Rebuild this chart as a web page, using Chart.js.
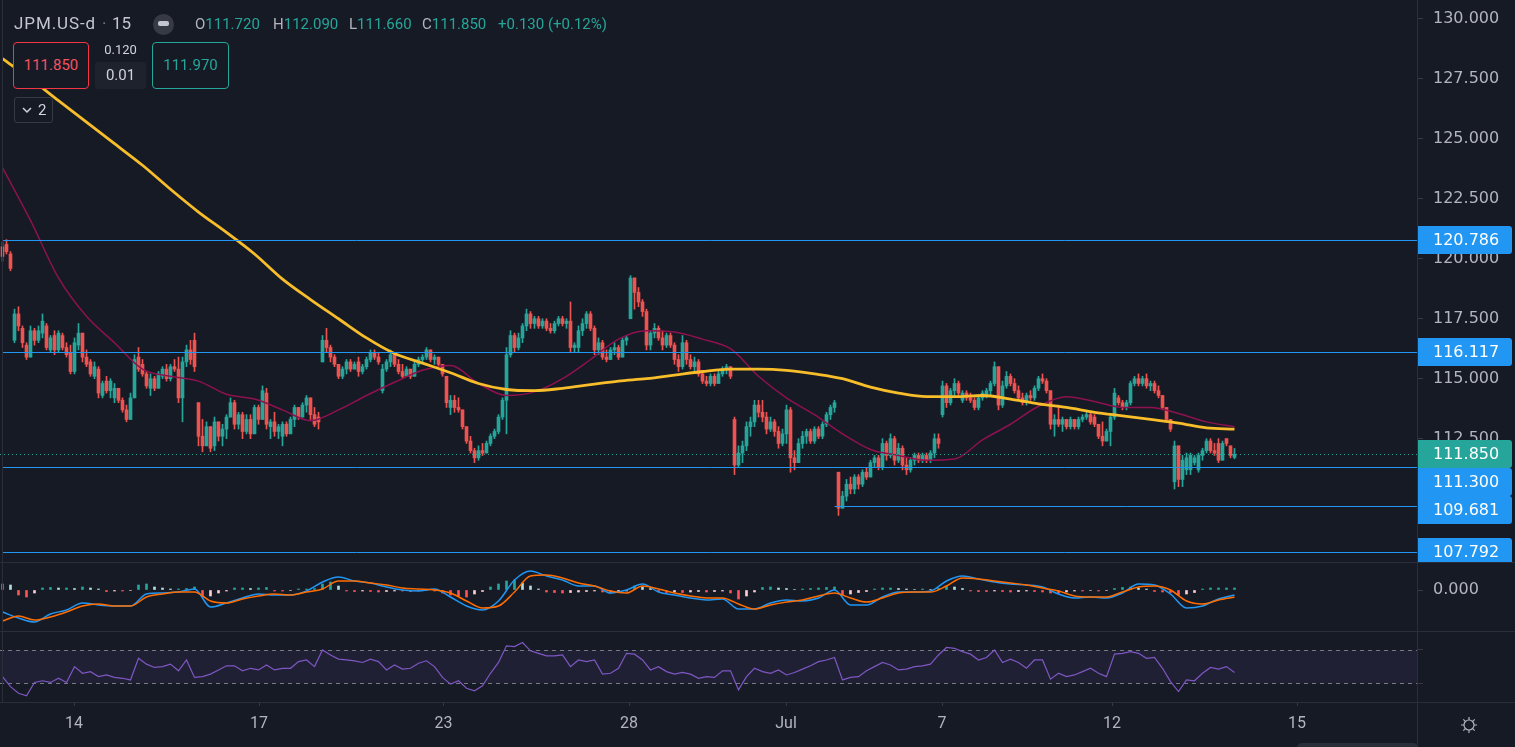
<!DOCTYPE html>
<html>
<head>
<meta charset="utf-8">
<title>JPM.US-d 15</title>
<script src="https://cdn.jsdelivr.net/npm/chart.js@4.4.1/dist/chart.umd.min.js"></script>
<style>
  html, body { margin: 0; padding: 0; background: #161a25; }
  body { width: 1515px; height: 747px; overflow: hidden; position: relative; font-family: Roboto, "Noto Sans", sans-serif; }
  canvas { position: absolute; left: 0; }
  .sep { position: absolute; background: #2a2e39; }
  .lbl { position: absolute; white-space: nowrap; }
  .sym { font-size: 17px; line-height: 22px; color: #c4c7cf; top: 12px; }
  .ohlc { font-size: 15px; line-height: 18px; top: 15px; color: #b2b5be; }
  .ohlc b { font-weight: normal; color: #26a69a; }
  .box { position: absolute; box-sizing: border-box; border: 1px solid; border-radius: 4px; background: #161a25; font-size: 15px; text-align: center; line-height: 45px; }
</style>
</head>
<body>
<canvas id="priceChart" width="1515" height="562" style="top:0"></canvas>
<canvas id="macdChart" width="1515" height="68" style="top:563px"></canvas>
<canvas id="rsiChart" width="1515" height="115" style="top:632px"></canvas>

<div class="sep" style="left:0;top:562px;width:1515px;height:1px"></div>
<div class="sep" style="left:0;top:631px;width:1515px;height:1px"></div>
<div class="sep" style="left:0;top:702px;width:1515px;height:1px"></div>
<div class="sep" style="left:1417px;top:0;width:1px;height:747px"></div>
<div class="sep" style="left:2px;top:0;width:1px;height:702px"></div>

<div class="lbl sym" style="left:14px;letter-spacing:0.9px">JPM.US-d</div>
<div class="lbl sym" style="left:102px;color:#787b86">·</div>
<div class="lbl sym" style="left:112px">15</div>
<div style="position:absolute;left:153px;top:14px;width:21px;height:21px;border-radius:50%;background:#363a45"></div>
<div style="position:absolute;left:158px;top:21px;width:11px;height:5px;border-radius:2px;background:#c4c7cf"></div>
<div class="lbl ohlc" style="left:195px">O<b>111.720</b></div>
<div class="lbl ohlc" style="left:273px">H<b>112.090</b></div>
<div class="lbl ohlc" style="left:349px">L<b>111.660</b></div>
<div class="lbl ohlc" style="left:422px">C<b>111.850</b></div>
<div class="lbl ohlc" style="left:498px"><b>+0.130 (+0.12%)</b></div>

<div class="box" style="left:13px;top:42px;width:76px;height:47px;border-color:#f23645;color:#f7525f">111.850</div>
<div class="lbl" style="left:95px;top:43px;width:51px;text-align:center;font-size:13px;line-height:14px;color:#d1d4dc">0.120</div>
<div style="position:absolute;left:95px;top:62px;width:51px;height:27px;border-radius:3px;background:#1e222d;color:#d1d4dc;font-size:15px;line-height:27px;text-align:center">0.01</div>
<div class="box" style="left:152px;top:42px;width:77px;height:47px;border-color:#26a69a;color:#26a69a">111.970</div>
<div style="position:absolute;left:14px;top:97px;width:39px;height:26px;box-sizing:border-box;border:1px solid #363a45;border-radius:3px"></div>
<svg style="position:absolute;left:22px;top:106px" width="10" height="8"><polyline points="1,2 5,6 9,2" fill="none" stroke="#d1d4dc" stroke-width="1.5"/></svg>
<div class="lbl" style="left:38px;top:101px;font-size:15px;line-height:18px;color:#d1d4dc">2</div>

<svg style="position:absolute;left:1459px;top:715px" width="20" height="20">
  <circle cx="10" cy="10" r="5" fill="none" stroke="#b2b5be" stroke-width="1.2"/>
  <path d="M10 2v3M10 15v3M2 10h3M15 10h3M4.3 4.3l2 2M13.7 13.7l2 2M4.3 15.7l2-2M13.7 6.3l2-2" stroke="#b2b5be" stroke-width="1.2"/>
</svg>
<div style="position:absolute;left:1297px;top:743px;width:121px;height:10px;border-radius:6px;background:#2a2e39"></div>

<script>
// 15-minute candles, one entry per bar
var opens = [
  120.5,120.6,120.2,116.6,117.7,117.1,116.4,115.9,117.0,116.6,
  116.9,117.2,116.2,116.8,116.2,116.8,116.3,116.1,115.3,116.4,
  116.9,115.9,115.7,115.1,115.4,114.3,114.9,114.5,114.2,114.6,
  114.1,113.7,113.3,114.2,115.9,115.6,115.2,114.6,115.0,114.6,
  115.1,115.4,115.0,115.5,115.4,114.2,115.7,116.2,116.6,114.0,
  112.6,112.2,113.0,112.2,113.2,112.6,112.9,113.4,114.0,113.1,
  113.5,112.8,113.3,112.7,113.8,113.3,114.4,113.0,113.2,112.8,
  112.6,113.1,112.7,113.3,113.8,113.4,113.9,114.2,113.5,113.4,
  115.7,116.6,116.3,115.9,115.6,115.1,115.4,115.7,115.4,115.7,
  115.3,115.5,115.8,116.1,115.9,114.5,115.4,115.7,116.0,115.6,
  115.3,115.1,115.4,115.1,115.6,115.8,115.9,116.2,115.8,115.9,
  115.6,115.1,113.8,114.1,113.8,113.7,113.0,112.4,112.0,111.7,
  112.0,111.9,112.3,112.6,112.8,113.4,114.1,116.0,116.8,116.3,
  116.7,117.2,117.7,117.3,117.5,117.2,117.4,117.1,117.0,117.3,
  117.5,117.3,117.4,116.3,116.3,117.0,117.3,117.7,117.1,116.2,
  116.5,115.9,115.8,116.2,116.3,115.9,116.6,117.5,119.2,118.6,
  118.2,117.8,116.4,116.9,117.1,116.7,116.4,116.8,116.4,115.8,
  115.5,116.5,115.8,115.5,115.7,115.2,114.9,114.8,115.1,114.8,
  115.2,115.4,115.5,113.3,111.4,111.9,112.2,113.0,113.2,113.9,
  113.6,113.4,112.9,113.2,112.8,112.3,112.7,113.7,111.7,111.5,
  112.3,112.6,112.8,112.4,112.9,112.6,113.1,113.5,113.8,111.1,
  109.6,110.1,110.6,110.4,110.9,110.6,111.1,110.9,111.5,111.7,
  111.3,112.3,111.8,112.5,111.6,112.1,111.4,111.2,111.6,111.8,
  111.6,111.8,111.6,111.9,112.5,113.5,114.7,114.0,114.5,114.8,
  114.1,114.4,114.2,114.1,113.8,114.2,114.3,114.5,114.8,115.5,
  113.9,114.7,115.1,114.8,114.5,114.2,114.0,114.3,114.2,114.6,
  115.0,114.9,114.5,113.1,113.3,113.1,113.3,113.0,113.3,113.0,
  113.3,113.4,113.5,113.4,113.1,112.6,112.4,112.8,113.4,114.2,
  114.0,113.8,114.0,114.8,115.0,114.8,115.0,114.7,114.8,114.5,
  114.3,113.8,113.3,110.7,112.2,110.8,111.2,111.2,111.5,111.2,
  111.8,112.0,112.4,112.0,112.3,111.6,112.5,112.2,111.72
];
var highs = [
  120.7,120.8,120.3,117.9,118.0,117.2,116.5,117.2,117.1,117.2,
  117.7,117.3,116.8,117.0,117.0,116.9,116.5,116.4,116.7,117.3,
  116.9,116.2,115.8,115.7,115.5,114.9,115.1,115.0,114.8,114.6,
  114.2,113.9,114.4,116.0,116.3,115.8,115.3,115.2,115.1,115.3,
  115.5,115.6,115.6,115.8,115.9,115.9,116.4,116.6,116.9,114.0,
  113.3,113.2,113.0,113.4,113.2,113.1,113.5,114.2,114.1,113.6,
  113.6,113.5,113.5,113.9,113.9,114.7,114.6,113.3,113.6,113.1,
  113.2,113.2,113.4,113.9,113.8,114.0,114.3,114.2,113.8,113.6,
  116.8,117.1,116.4,116.0,115.6,115.5,115.8,115.8,115.7,115.9,
  115.6,115.9,116.2,116.2,116.1,115.6,115.8,116.2,116.1,115.8,
  115.6,115.5,115.4,115.7,115.9,116.0,116.3,116.2,116.0,115.9,
  115.6,115.1,114.3,114.3,114.2,113.7,113.0,112.6,112.1,112.2,
  112.3,112.4,112.7,112.9,113.5,114.2,116.3,117.0,116.9,116.9,
  117.3,117.9,117.8,117.6,117.6,117.5,117.5,117.3,117.4,117.6,
  117.6,117.5,118.2,116.5,117.2,117.5,117.8,117.8,117.2,116.7,
  116.6,116.2,116.3,116.5,116.4,116.7,116.8,119.3,119.2,118.8,
  118.3,117.9,117.0,117.3,117.2,117.0,116.9,116.9,116.5,116.0,
  116.8,116.6,116.0,115.9,115.8,115.3,115.1,115.2,115.2,115.3,
  115.5,115.6,115.5,113.4,112.2,112.4,113.2,113.4,114.1,114.1,
  114.1,113.6,113.4,113.3,113.0,112.9,113.9,113.8,112.0,112.5,
  112.8,112.9,112.9,113.0,113.0,113.2,113.6,113.9,114.1,111.1,
  110.3,110.8,110.9,111.0,111.0,111.2,111.3,111.6,111.8,111.8,
  112.5,112.4,112.7,112.6,112.3,112.2,111.7,111.7,111.9,111.9,
  111.9,111.9,112.0,112.7,112.7,114.9,114.8,114.6,115.0,114.9,
  114.5,114.5,114.4,114.2,114.3,114.5,114.6,114.9,115.7,115.5,
  114.9,115.3,115.2,115.0,114.7,114.4,114.4,114.5,114.7,115.1,
  115.2,115.0,114.5,113.5,113.9,113.4,113.3,113.4,113.3,113.4,
  113.5,113.6,113.6,113.5,113.1,113.2,112.9,113.5,114.6,114.3,
  114.1,114.1,114.9,115.1,115.2,115.1,115.2,114.9,114.9,114.7,
  114.3,113.8,113.3,112.4,112.2,111.8,111.9,111.9,111.8,111.9,
  112.1,112.5,112.5,112.3,112.5,112.4,112.5,112.2,112.09
];
var lows = [
  119.9,120.2,119.5,116.5,117.0,116.3,115.8,115.9,116.4,116.5,
  116.7,116.2,116.1,116.0,116.1,116.2,115.9,115.2,115.2,116.2,
  115.7,115.5,115.1,115.0,114.2,114.2,114.4,114.2,114.0,114.0,
  113.6,113.2,113.3,114.2,115.3,115.1,114.6,114.3,114.5,114.6,
  115.0,114.9,114.9,115.3,114.0,113.2,115.5,115.6,115.3,112.2,
  111.95,112.2,111.95,112.0,112.4,112.2,112.5,113.4,112.9,112.9,
  112.5,112.7,112.5,112.7,113.1,113.3,112.9,112.5,112.6,112.5,
  112.2,112.6,112.7,113.0,113.3,113.4,113.6,113.3,113.0,112.9,
  115.7,116.1,115.7,115.5,115.0,115.0,115.2,115.3,115.4,115.1,
  115.2,115.4,115.7,115.8,115.6,114.4,115.3,115.5,115.5,115.2,
  115.0,115.1,115.0,115.1,115.5,115.7,115.8,115.7,115.6,115.5,
  115.1,113.8,113.5,113.6,113.6,112.9,112.3,111.9,111.5,111.6,
  111.8,111.9,112.2,112.5,112.7,113.3,112.7,115.9,116.1,116.2,
  116.5,117.0,117.1,117.1,117.1,117.1,117.0,116.9,116.9,117.2,
  117.2,117.1,116.1,116.1,116.1,116.8,117.1,117.0,116.0,116.0,
  115.8,115.7,115.8,116.0,115.8,115.9,116.4,117.5,117.9,118.0,
  117.6,116.2,116.2,116.7,116.6,116.2,116.3,116.3,115.6,115.3,
  115.4,115.6,115.4,115.3,115.1,114.8,114.7,114.7,114.7,114.8,
  115.1,115.2,115.0,111.0,111.3,111.5,112.0,112.6,113.0,113.4,
  113.2,112.7,112.8,112.6,112.1,112.2,112.3,111.1,111.2,111.5,
  112.1,112.3,112.3,112.3,112.5,112.5,113.0,113.3,113.6,109.3,
  109.6,109.9,110.2,110.2,110.4,110.5,110.8,110.9,111.3,111.2,
  111.2,111.6,111.7,111.4,111.5,111.2,111.0,111.1,111.4,111.5,
  111.5,111.5,111.5,111.7,112.1,113.4,113.8,113.9,114.3,114.3,
  114.0,114.1,114.0,113.7,113.7,114.1,114.2,114.3,114.7,113.7,
  113.8,114.6,114.7,114.4,114.1,113.9,113.9,114.1,114.1,114.5,
  114.8,114.4,112.9,112.6,113.0,112.8,112.9,112.9,112.9,112.9,
  113.2,113.3,113.1,113.0,112.5,112.2,112.4,112.2,113.3,113.9,
  113.7,113.7,113.9,114.7,114.7,114.7,114.6,114.5,114.4,114.2,
  113.7,113.2,112.8,110.4,110.5,110.5,111.0,111.0,111.4,111.1,
  111.6,111.9,111.9,111.8,111.5,111.6,112.2,111.7,111.66
];
var closes = [
  120.1,120.3,119.6,117.7,117.2,116.5,115.9,117.0,116.6,117.0,
  117.4,116.3,116.7,116.2,116.9,116.3,116.0,115.3,116.5,116.9,
  115.9,115.6,115.2,115.5,114.4,114.8,114.5,114.9,114.6,114.1,
  113.7,113.3,114.2,115.8,115.4,115.2,114.7,115.0,114.6,115.2,
  115.4,115.0,115.5,115.4,114.2,115.7,116.2,115.8,115.5,112.6,
  112.2,113.0,112.1,113.2,112.6,112.9,113.4,114.0,113.1,113.5,
  112.8,113.3,112.7,113.8,113.3,114.5,113.1,113.2,112.8,113.0,
  113.1,112.7,113.3,113.8,113.4,113.9,114.2,113.5,113.1,113.2,
  116.6,116.3,115.9,115.6,115.1,115.4,115.7,115.4,115.6,115.3,
  115.5,115.8,116.1,115.9,115.7,115.4,115.7,116.0,115.6,115.3,
  115.1,115.4,115.1,115.6,115.8,115.9,116.2,115.8,115.9,115.6,
  115.2,114.0,114.1,113.8,113.7,113.0,112.4,112.0,111.7,112.0,
  111.9,112.3,112.6,112.8,113.4,114.1,116.0,116.8,116.3,116.7,
  117.2,117.7,117.3,117.5,117.2,117.4,117.1,117.0,117.3,117.5,
  117.3,117.4,116.3,116.4,117.0,117.3,117.7,117.1,116.2,116.5,
  115.9,115.8,116.2,116.3,115.9,116.6,116.7,119.2,118.6,118.2,
  117.8,116.4,116.9,117.1,116.7,116.4,116.8,116.4,115.8,115.5,
  116.5,115.8,115.5,115.7,115.2,114.9,114.8,115.1,114.8,115.2,
  115.4,115.5,115.1,111.4,111.9,112.2,113.0,113.2,113.9,113.6,
  113.4,112.9,113.2,112.8,112.3,112.7,113.7,111.7,111.5,112.3,
  112.6,112.8,112.4,112.9,112.6,113.1,113.5,113.8,114.0,109.6,
  110.1,110.6,110.4,110.9,110.6,111.1,110.9,111.5,111.7,111.3,
  112.3,111.8,112.5,111.6,112.1,111.4,111.2,111.6,111.8,111.6,
  111.8,111.6,111.9,112.5,112.3,114.7,114.0,114.5,114.8,114.4,
  114.4,114.2,114.1,113.8,114.2,114.4,114.5,114.8,115.5,113.9,
  114.7,115.1,114.8,114.5,114.2,114.0,114.3,114.2,114.6,115.0,
  114.9,114.5,113.1,113.3,113.1,113.3,113.0,113.3,113.0,113.3,
  113.4,113.5,113.2,113.1,112.6,112.4,112.8,113.4,114.4,114.0,
  113.8,114.0,114.8,115.0,114.8,115.0,114.7,114.8,114.5,114.3,
  113.8,113.3,112.9,112.2,110.8,111.6,111.7,111.8,111.7,111.8,
  112.0,112.4,112.0,111.9,111.6,112.3,112.3,111.8,111.85
];

// moving averages, one value every 7 bars
var maStep = 7;
var slowMa = [
  128.35,127.5,126.6,125.7,124.8,123.9,122.9,121.95,121.1,120.2,
  119.15,118.3,117.5,116.7,116.05,115.65,115.25,114.8,114.55,114.5,
  114.6,114.75,114.9,115.0,115.15,115.3,115.4,115.4,115.35,115.2,
  115.0,114.65,114.4,114.25,114.25,114.3,114.15,113.95,113.8,113.6,
  113.45,113.3,113.15,112.95,112.9
];
var fastMa = [
  123.8,121.6,119.2,117.6,116.5,115.4,115.1,114.9,114.35,114.15,
  113.7,113.25,113.7,114.3,114.85,115.35,115.55,114.8,114.3,114.45,
  115.0,115.8,116.65,117.0,116.95,116.65,116.25,115.1,114.2,113.5,
  112.7,112.05,111.8,111.6,111.65,112.45,113.1,113.85,114.25,114.05,
  113.8,113.8,113.55,113.2,113.0
];

// MACD lines every 4 bars, histogram and RSI every 2 bars
var macdStep = 4;
var macdLine = [
  -0.44,-0.56,-0.64,-0.48,-0.40,-0.26,-0.30,-0.32,-0.32,-0.08,
  -0.06,-0.04,0.02,-0.34,-0.26,-0.16,-0.08,-0.10,-0.10,-0.02,
  0.16,0.26,0.18,0.14,0.06,0.0,-0.02,0.02,-0.14,-0.32,
  -0.40,-0.22,0.20,0.38,0.28,0.20,0.08,0.08,-0.06,0.0,
  0.12,-0.04,-0.10,-0.16,-0.20,-0.18,-0.38,-0.38,-0.26,-0.20,
  -0.22,-0.16,0.0,-0.30,-0.30,-0.14,-0.04,-0.04,-0.02,0.18,
  0.28,0.22,0.16,0.12,0.10,0.06,-0.08,-0.16,-0.14,-0.16,
  -0.06,0.12,0.10,-0.08,-0.36,-0.32,-0.18,-0.10
];
var signalLine = [
  -0.62,-0.52,-0.60,-0.54,-0.44,-0.32,-0.28,-0.32,-0.32,-0.14,
  -0.08,-0.04,-0.04,-0.22,-0.26,-0.18,-0.12,-0.08,-0.10,-0.04,
  0.02,0.18,0.18,0.14,0.10,0.04,0.02,0.0,-0.06,-0.22,
  -0.36,-0.32,-0.04,0.28,0.30,0.24,0.14,0.08,-0.02,-0.06,
  0.08,0.02,-0.06,-0.12,-0.16,-0.16,-0.28,-0.38,-0.30,-0.24,
  -0.20,-0.12,-0.06,-0.16,-0.24,-0.16,-0.06,-0.04,-0.04,0.08,
  0.24,0.22,0.18,0.14,0.10,0.04,-0.02,-0.12,-0.14,-0.14,
  -0.04,0.06,0.08,0.0,-0.22,-0.28,-0.20,-0.14
];
var oscStep = 2;
var macdHist = [
  0.12,0.10,-0.10,-0.14,-0.06,0.04,0.05,0.04,0.04,0.03,
  0.06,0.04,0.02,-0.03,-0.02,-0.02,-0.01,0.10,0.12,0.06,
  0.04,0.02,0.02,0.03,0.06,-0.14,-0.12,-0.06,-0.02,0.04,
  0.04,0.03,0.04,0.05,-0.02,-0.02,-0.01,0.02,0.02,0.03,
  0.12,0.16,0.08,-0.02,-0.03,-0.02,-0.03,-0.04,-0.03,-0.02,
  -0.02,-0.03,-0.01,-0.01,-0.02,-0.06,-0.10,-0.12,-0.14,-0.08,
  -0.03,0.06,0.12,0.18,0.20,0.14,0.08,0.02,-0.04,-0.05,
  -0.06,-0.05,-0.04,-0.03,-0.02,-0.04,-0.06,-0.05,-0.02,0.08,
  0.06,0.03,-0.03,-0.05,-0.04,-0.05,-0.04,-0.03,-0.04,-0.03,
  -0.02,-0.06,-0.18,-0.12,-0.04,0.05,0.06,0.04,0.03,0.01,
  0.02,0.03,0.04,0.05,0.06,-0.10,-0.08,-0.05,-0.03,0.02,
  0.04,0.04,0.03,0.02,0.01,0.02,0.01,0.03,0.08,0.06,
  0.03,-0.02,-0.03,-0.03,-0.02,-0.03,-0.04,-0.03,-0.02,-0.03,
  -0.04,-0.06,-0.06,-0.04,-0.02,-0.02,-0.01,-0.02,-0.01,0.03,
  0.05,0.06,0.04,0.02,-0.03,-0.04,-0.05,-0.10,-0.08,-0.05,
  0.02,0.04,0.04,0.04,0.04
];
var rsiValues = [
  38,26,18,15,31,33,31,36,31,50,
  42,44,38,40,37,36,34,60,53,49,
  50,53,45,58,37,38,41,46,51,51,
  45,48,46,52,46,48,48,56,58,50,
  70,64,59,58,57,55,59,56,46,52,
  47,48,54,57,50,37,29,33,24,21,
  27,42,55,75,74,79,69,66,63,63,
  64,50,58,56,58,41,42,48,66,65,
  58,46,50,44,41,43,41,36,38,37,
  45,45,22,38,48,44,42,46,40,43,
  47,51,56,58,61,34,37,38,45,50,
  55,52,46,47,50,51,53,64,73,72,
  68,65,58,61,70,55,59,55,48,58,
  58,35,42,38,40,44,48,42,38,65,
  66,68,66,60,61,48,32,20,34,33,
  42,49,47,50,43
];
var rsiUpper = 70, rsiLower = 30;

// horizontal levels drawn on the chart
var levelValues = [120.786, 116.117, 111.300, 109.681, 107.792];
var levelStart = [0, 0, 0, 208, 0];
var lastPrice = 111.85;

// time axis
var dayLabels = ['14', '17', '23', '28', 'Jul', '7', '12', '15'];
var dayTicks = [17.875, 64.125, 110.25, 156.625, 195.875, 234.875, 277.375, 323.625];

var UP = '#26a69a', DOWN = '#ef5350';
var X_MIN = -0.625, X_MAX = 353.875;
var AXIS_W = 97;
var AXIS_FONT = { family: '"DejaVu Sans", sans-serif', size: 16 };

Chart.defaults.font.family = 'Roboto, "Noto Sans", sans-serif';
Chart.defaults.color = '#b2b5be';
Chart.defaults.animation = false;
Chart.defaults.events = [];
Chart.defaults.plugins.legend.display = false;
Chart.defaults.plugins.tooltip.enabled = false;

// keep the plot area flush with the canvas edges
function fixWidth(scale) {
  scale.width = AXIS_W;
  scale.paddingTop = 0;
  scale.paddingBottom = 0;
}
function hiddenX() { return { type: 'linear', min: X_MIN, max: X_MAX, offset: false, display: false }; }
function candleColor(ctx) {
  var i = ctx.dataIndex;
  return closes[i] >= opens[i] ? UP : DOWN;
}
function histColor(ctx) {
  var j = ctx.dataIndex, v = macdHist[j], p = j > 0 ? macdHist[j - 1] : v;
  if (v >= 0) return v >= p ? '#26a69a' : '#b2dfdb';
  return v <= p ? '#ff5252' : '#ffcdd2';
}
function sampled(arr, step) {
  return arr.map(function (v, k) { return { x: k * step, y: v }; });
}
function rightAxis(extra) {
  var axis = {
    position: 'right',
    afterFit: fixWidth,
    grid: { drawOnChartArea: false, tickLength: 5, color: '#363a45' },
    border: { display: false }
  };
  for (var k in extra) axis[k] = extra[k];
  return axis;
}

var levelsPlugin = {
  id: 'levels',
  afterDatasetsDraw: function (chart) {
    var ctx = chart.ctx, a = chart.chartArea, x = chart.scales.x, y = chart.scales.y;
    ctx.save();
    ctx.lineWidth = 1;
    ctx.strokeStyle = '#2196f3';
    levelValues.forEach(function (v, n) {
      var py = Math.round(y.getPixelForValue(v)) + 0.5;
      var px = Math.max(a.left, x.getPixelForValue(levelStart[n]));
      ctx.beginPath(); ctx.moveTo(px, py); ctx.lineTo(a.right, py); ctx.stroke();
    });
    ctx.strokeStyle = UP;
    ctx.setLineDash([1, 3]);
    var cy = Math.round(y.getPixelForValue(lastPrice)) + 0.5;
    ctx.beginPath(); ctx.moveTo(a.left, cy); ctx.lineTo(a.right, cy); ctx.stroke();
    ctx.restore();
  },
  afterDraw: function (chart) {
    var ctx = chart.ctx, a = chart.chartArea, y = chart.scales.y;
    var tags = levelValues.map(function (v) { return { v: v, c: '#2196f3' }; });
    tags.push({ v: lastPrice, c: UP });
    tags.forEach(function (t) { t.y = y.getPixelForValue(t.v); });
    tags.sort(function (p, q) { return p.y - q.y; });
    var h = 28;
    for (var n = 1; n < tags.length; n++) {
      if (tags[n].y < tags[n - 1].y + h) tags[n].y = tags[n - 1].y + h;
    }
    tags.sort(function (p, q) { return (p.c === UP) - (q.c === UP); });
    ctx.save();
    ctx.font = '16px "DejaVu Sans", sans-serif';
    ctx.textBaseline = 'middle';
    tags.forEach(function (t) {
      ctx.fillStyle = t.c;
      ctx.beginPath();
      ctx.roundRect(a.right, Math.round(t.y - h / 2), 94, h, [0, 3, 3, 0]);
      ctx.fill();
      ctx.fillStyle = '#ffffff';
      ctx.fillText(t.v.toFixed(3), a.right + 15, t.y + 1);
    });
    ctx.restore();
  }
};

var rsiBand = {
  id: 'rsiBand',
  beforeDatasetsDraw: function (chart) {
    var ctx = chart.ctx, a = chart.chartArea, y = chart.scales.y;
    var top = y.getPixelForValue(rsiUpper), bot = y.getPixelForValue(rsiLower);
    ctx.save();
    ctx.fillStyle = 'rgba(126, 87, 194, 0.1)';
    ctx.fillRect(a.left, top, a.right - a.left, bot - top);
    ctx.strokeStyle = '#787b86';
    ctx.lineWidth = 1;
    ctx.setLineDash([4, 4]);
    [top, bot].forEach(function (py) {
      py = Math.round(py) + 0.5;
      ctx.beginPath(); ctx.moveTo(a.left, py); ctx.lineTo(a.right, py); ctx.stroke();
    });
    ctx.restore();
  }
};

new Chart(document.getElementById('priceChart'), {
  type: 'bar',
  data: {
    datasets: [
      {
        label: 'wicks',
        data: lows.map(function (l, i) { return { x: i, y: [l, highs[i]] }; }),
        backgroundColor: candleColor, barThickness: 1, grouped: false, order: 4
      },
      {
        label: 'bodies',
        data: opens.map(function (o, i) { return { x: i, y: [o, closes[i]] }; }),
        backgroundColor: candleColor, barThickness: 3, minBarLength: 1, grouped: false, order: 3
      },
      {
        type: 'line', label: 'MA fast', data: sampled(fastMa, maStep),
        borderColor: '#8e1150', borderWidth: 1.5, pointRadius: 0, cubicInterpolationMode: 'monotone', order: 2
      },
      {
        type: 'line', label: 'MA slow', data: sampled(slowMa, maStep),
        borderColor: '#f7bd2a', borderWidth: 2.8, pointRadius: 0, cubicInterpolationMode: 'monotone', order: 1
      }
    ]
  },
  options: {
    responsive: false, devicePixelRatio: 1, layout: { padding: 0 },
    scales: {
      x: hiddenX(),
      y: rightAxis({
        min: 107.356, max: 130.792,
        afterBuildTicks: function (s) { s.ticks = s.ticks.filter(function (t) { return t.value >= 110 && t.value <= 130; }); },
        ticks: { stepSize: 2.5, includeBounds: false, padding: 10, color: '#b2b5be', font: AXIS_FONT, callback: function (v) { return v.toFixed(3); } }
      })
    }
  },
  plugins: [levelsPlugin]
});

new Chart(document.getElementById('macdChart'), {
  type: 'bar',
  data: {
    datasets: [
      { label: 'histogram', data: sampled(macdHist, oscStep), backgroundColor: histColor, barThickness: 2, grouped: false, order: 3 },
      { type: 'line', label: 'MACD', data: sampled(macdLine, macdStep), borderColor: '#2196f3', borderWidth: 1.5, pointRadius: 0, cubicInterpolationMode: 'monotone', order: 2 },
      { type: 'line', label: 'Signal', data: sampled(signalLine, macdStep), borderColor: '#ff6d00', borderWidth: 1.5, pointRadius: 0, cubicInterpolationMode: 'monotone', order: 1 }
    ]
  },
  options: {
    responsive: false, devicePixelRatio: 1, layout: { padding: 0 },
    scales: {
      x: hiddenX(),
      y: rightAxis({
        min: -0.82, max: 0.54,
        afterBuildTicks: function (s) { s.ticks = [{ value: 0 }]; },
        ticks: { padding: 10, color: '#b2b5be', font: AXIS_FONT, callback: function (v) { return v.toFixed(3); } }
      })
    }
  }
});

new Chart(document.getElementById('rsiChart'), {
  type: 'line',
  data: {
    datasets: [
      { label: 'RSI', data: sampled(rsiValues, oscStep), borderColor: '#7e57c2', borderWidth: 1.2, pointRadius: 0, tension: 0 }
    ]
  },
  options: {
    responsive: false, devicePixelRatio: 1, layout: { padding: 0 },
    scales: {
      x: {
        type: 'linear', min: X_MIN, max: X_MAX, offset: false,
        afterFit: function (s) { s.height = 45; s.paddingLeft = 0; s.paddingRight = 0; },
        afterBuildTicks: function (s) { s.ticks = dayTicks.map(function (v) { return { value: v }; }); },
        ticks: { autoSkip: false, maxRotation: 0, padding: 8, color: '#b2b5be', font: { size: 16 }, callback: function (v, n) { return dayLabels[n]; } },
        grid: { drawOnChartArea: false, tickLength: 4, color: '#363a45' },
        border: { display: false }
      },
      y: rightAxis({
        min: 7.5, max: 91.6,
        afterBuildTicks: function (s) { s.ticks = [{ value: rsiLower }, { value: rsiUpper }]; },
        ticks: { padding: 10, callback: function () { return ''; } }
      })
    }
  },
  plugins: [rsiBand]
});
</script>
</body>
</html>
